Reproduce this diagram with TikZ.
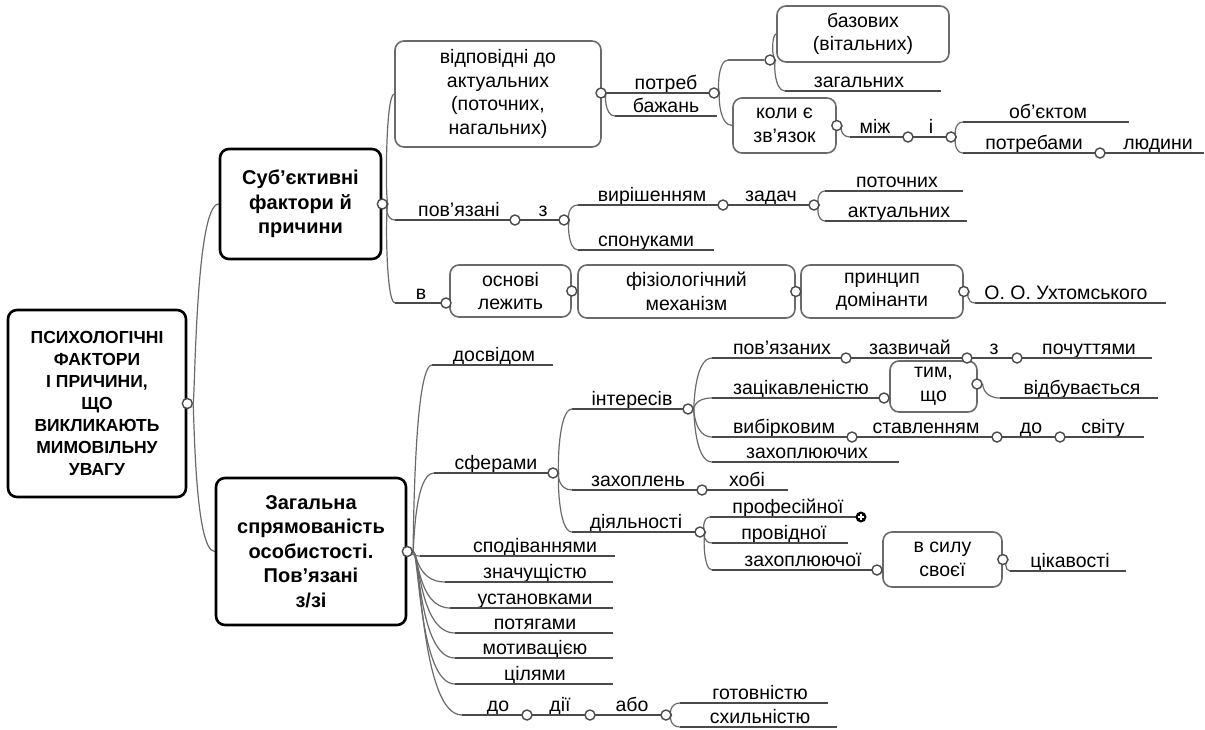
\documentclass[tikz,border=0pt]{standalone}
\usepackage{fontspec}
\setmainfont{Liberation Sans}
\usetikzlibrary{calc}
\pgfdeclarelayer{back}
\pgfdeclarelayer{bg}
\pgfsetlayers{back,bg,main}
\definecolor{ulc}{HTML}{4A4A4A}
\definecolor{cnc}{HTML}{6A6A6A}
\definecolor{bxc}{HTML}{6A6A6A}
\tikzset{
  mm/.style={to path={let \p1=(\tikztostart), \p2=(\tikztotarget), \n1={0.25*(\x2-\x1)} in .. controls (\x1+\n1,\y1) and (\x1+\n1,\y2) .. (\p2)}},
  conn/.style={draw=cnc, line width=1.2pt},
  uline/.style={draw=ulc, line width=1.8pt},
  lbl/.style={anchor=base, inner sep=0pt, font=\fontsize{19.5}{23}\selectfont},
  dot/.style={circle, draw=ulc, fill=white, line width=1.4pt, inner sep=0pt, minimum size=10pt},
  bigbox/.style={draw=black, line width=2.6pt, rounded corners=9pt, fill=white, align=center, inner sep=0pt, font=\fontsize{20}{24.5}\selectfont\bfseries},
  subbox/.style={draw=bxc, line width=1.6pt, rounded corners=9pt, fill=white, align=center, inner sep=0pt, font=\fontsize{19.5}{23.5}\selectfont},
}
\newcommand\mmul[6]{%
  \node[lbl] (#1) at (#2,#3-3.5) {#6};
  \coordinate (#1-s) at (#4,#3);
  \coordinate (#1-e) at (#5,#3);
  \draw[uline] (#1-s) -- (#1-e);
}
\begin{document}
\begin{tikzpicture}[x=1pt,y=-1pt]
\begin{pgfonlayer}{back}
\fill[white] (0,0) rectangle (1205,729);
\end{pgfonlayer}
\useasboundingbox (0,0) rectangle (1205,729);
% boxes
\node[bigbox, font=\fontsize{17.5}{22}\selectfont\bfseries, minimum width=178pt, minimum height=187pt] (root) at (97,403.5) {ПСИХОЛОГІЧНІ\\ФАКТОРИ\\І ПРИЧИНИ,\\ЩО\\ВИКЛИКАЮТЬ\\МИМОВІЛЬНУ\\УВАГУ};
\node[bigbox, minimum width=161pt, minimum height=110pt] (subj) at (300.5,204) {Суб'єктивні\\фактори й\\причини};
\node[bigbox, minimum width=190pt, minimum height=147pt] (zag) at (311,551.5) {Загальна\\спрямованість\\особистості.\\Пов'язані\\з/зі};
\node[subbox, minimum width=206pt, minimum height=106pt] (vidpov) at (498,94) {відповідні до\\актуальних\\(поточних,\\нагальних)};
\node[subbox, minimum width=172pt, minimum height=56pt] (bazov) at (863,34) {базових\\(вітальних)};
\node[subbox, minimum width=103pt, minimum height=55pt] (koly) at (784.5,125.5) {коли є\\зв'язок};
\node[subbox, minimum width=121pt, minimum height=52pt] (osnovi) at (510.5,291) {основі\\лежить};
\node[subbox, minimum width=217pt, minimum height=53pt] (fiziol) at (686.5,291.5) {фізіологічний\\механізм};
\node[subbox, minimum width=162pt, minimum height=53pt] (prynts) at (882,291.5) {принцип\\домінанти};
\node[subbox, minimum width=87pt, minimum height=51pt] (tym) at (933.5,386.5) {тим,\\що};
\node[subbox, minimum width=119pt, minimum height=55pt] (vsylu) at (942.5,559.5) {в силу\\своєї};
% underline topics: name, cx, line y, x start, x end, text
\mmul{povyaz}{459}{220}{395}{515}{пов'язані}
\mmul{z1}{543}{220}{515}{564}{з}
\mmul{v1}{421}{303}{395}{446}{в}
\mmul{potreb}{666}{93}{601}{714}{потреб}
\mmul{bazhan}{666}{116}{615}{717}{бажань}
\mmul{zagal}{859}{91}{785}{941}{загальних}
\mmul{mizh}{875}{137}{850}{908}{між}
\mmul{i1}{931}{137}{908}{951}{і}
\mmul{obyekt}{1048}{122}{963}{1129}{об'єктом}
\mmul{potrebamy}{1034}{153}{963}{1100}{потребами}
\mmul{lyudyny}{1158}{153}{1100}{1204}{людини}
\mmul{vyrish}{652}{205}{578}{723}{вирішенням}
\mmul{sponuk}{646}{250}{578}{714}{спонуками}
\mmul{zadach}{771}{205}{723}{814}{задач}
\mmul{potoch}{897}{191}{825}{963}{поточних}
\mmul{aktual}{899}{221}{825}{967}{актуальних}
\mmul{ukht}{1066}{303}{975}{1166}{О. О. Ухтомського}
\mmul{dosvid}{494}{365}{432}{553}{досвідом}
\mmul{sfer}{496}{473}{434}{553}{сферами}
\mmul{spod}{535}{556}{420}{615}{сподіваннями}
\mmul{znach}{535}{582}{445}{613}{значущістю}
\mmul{ustan}{535}{608}{450}{613}{установками}
\mmul{potyag}{535}{633}{455}{613}{потягами}
\mmul{motyv}{535}{658}{455}{613}{мотивацією}
\mmul{tsil}{535}{684}{455}{613}{цілями}
\mmul{do1}{498}{715}{462}{527}{до}
\mmul{dii}{560}{715}{527}{590}{дії}
\mmul{abo}{632}{715}{590}{666}{або}
\mmul{gotov}{760}{703}{680}{828}{готовністю}
\mmul{skhyl}{760}{727}{680}{837}{схильністю}
\mmul{inter}{632}{409}{572}{688}{інтересів}
\mmul{zakhopl}{638}{490}{572}{702}{захоплень}
\mmul{khobi}{747}{490}{702}{788}{хобі}
\mmul{diyal}{636}{532}{572}{700}{діяльності}
\mmul{povyaz2}{782}{358}{712}{846}{пов'язаних}
\mmul{zazvych}{910}{358}{846}{967}{зазвичай}
\mmul{z2}{994}{358}{967}{1017}{з}
\mmul{pochutt}{1089}{358}{1017}{1152}{почуттями}
\mmul{zatsik}{801}{398}{712}{884}{зацікавленістю}
\mmul{vidbuv}{1082}{398}{1000}{1158}{відбувається}
\mmul{vybirk}{784}{437}{712}{852}{вибірковим}
\mmul{stavl}{926}{437}{852}{997}{ставленням}
\mmul{do2}{1031}{437}{997}{1060}{до}
\mmul{svitu}{1103}{437}{1060}{1144}{світу}
\mmul{zakhopl2}{807}{462}{712}{899}{захоплюючих}
\mmul{prof}{788}{517}{710}{861}{професійної}
\mmul{provid}{784}{543}{712}{848}{провідної}
\mmul{zakhopl3}{803}{570}{712}{877}{захоплюючої}
\mmul{tsikav}{1070}{571}{1010}{1126}{цікавості}
% extra plain segment to the unnamed junction
\coordinate (mid-s) at (728,60);
% dots
\node[dot] (r-d) at (root.east) {};
\node[dot] (s-d) at (subj.east) {};
\node[dot] (zg-d) at (zag.east) {};
\node[dot] (vp-d) at (601,93) {};
\node[dot] (pt-d) at (potreb-e) {};
\node[dot] (md-d) at (770,60) {};
\node[dot] (kl-d) at (koly.east) {};
\node[dot] (mz-d) at (mizh-e) {};
\node[dot] (i-d) at (i1-e) {};
\node[dot] (pb-d) at (potrebamy-e) {};
\node[dot] (pv-d) at (povyaz-e) {};
\node[dot] (z-d) at (z1-e) {};
\node[dot] (vr-d) at (vyrish-e) {};
\node[dot] (zd-d) at (zadach-e) {};
\node[dot] (v-d) at (v1-e) {};
\node[dot] (os-d) at (osnovi.east) {};
\node[dot] (fz-d) at (fiziol.east) {};
\node[dot] (pr-d) at (prynts.east) {};
\node[dot] (sf-d) at (sfer-e) {};
\node[dot] (in-d) at (inter-e) {};
\node[dot] (p2-d) at (povyaz2-e) {};
\node[dot] (zv-d) at (zazvych-e) {};
\node[dot] (z2-d) at (z2-e) {};
\node[dot] (zc-d) at (zatsik-e) {};
\node[dot] (tm-d) at (977,384) {};
\node[dot] (vb-d) at (vybirk-e) {};
\node[dot] (sv-d) at (stavl-e) {};
\node[dot] (d2-d) at (do2-e) {};
\node[dot] (zh-d) at (zakhopl-e) {};
\node[dot] (dl-d) at (diyal-e) {};
\node[dot] (zh3-d) at (zakhopl3-e) {};
\node[dot] (vs-d) at (vsylu.east) {};
\node[dot] (do-d) at (do1-e) {};
\node[dot] (di-d) at (dii-e) {};
\node[dot] (ab-d) at (abo-e) {};
\node[circle, fill=black, inner sep=0pt, minimum size=11pt] (plus) at (prof-e) {};
\draw[white, line width=1.6pt] (plus.center) ++(-3.3,0) -- ++(6.6,0) (plus.center) ++(0,-3.3) -- ++(0,6.6);
% connectors
\begin{pgfonlayer}{bg}
\draw[conn] (r-d) to[mm] (subj.west);
\draw[conn] (r-d) to[mm] (zag.west);
\draw[conn] (s-d) to[mm] (vidpov.west);
\draw[conn] (s-d) to[mm] (povyaz-s);
\draw[conn] (s-d) to[mm] (v1-s);
\draw[conn] (vp-d) -- (vidpov.east);
\draw[conn] (vp-d) to[mm] (bazhan-s);
\draw[conn] (pt-d) to[mm] (mid-s);
\draw[conn] (mid-s) -- (md-d);
\draw[conn] (pt-d) to[mm] (koly.west);
\draw[conn] (md-d) to[mm] (bazov.west);
\draw[conn] (md-d) to[mm] (zagal-s);
\draw[conn] (kl-d) to[mm] (mizh-s);
\draw[conn] (i-d) to[mm] (obyekt-s);
\draw[conn] (i-d) to[mm] (potrebamy-s);
\draw[conn] (z-d) to[mm] (vyrish-s);
\draw[conn] (z-d) to[mm] (sponuk-s);
\draw[conn] (zd-d) to[mm] (potoch-s);
\draw[conn] (zd-d) to[mm] (aktual-s);
\draw[conn] (os-d) -- (fiziol.west);
\draw[conn] (fz-d) -- (prynts.west);
\draw[conn] (pr-d) to[mm] (ukht-s);
\draw[conn] (zg-d) to[mm] (dosvid-s);
\draw[conn] (zg-d) to[mm] (sfer-s);
\draw[conn] (zg-d) to[mm] (spod-s);
\draw[conn] (zg-d) to[mm] (znach-s);
\draw[conn] (zg-d) to[mm] (ustan-s);
\draw[conn] (zg-d) to[mm] (potyag-s);
\draw[conn] (zg-d) to[mm] (motyv-s);
\draw[conn] (zg-d) to[mm] (tsil-s);
\draw[conn] (zg-d) to[mm] (do1-s);
\draw[conn] (ab-d) to[mm] (gotov-s);
\draw[conn] (ab-d) to[mm] (skhyl-s);
\draw[conn] (sf-d) to[mm] (inter-s);
\draw[conn] (sf-d) to[mm] (zakhopl-s);
\draw[conn] (sf-d) to[mm] (diyal-s);
\draw[conn] (in-d) to[mm] (povyaz2-s);
\draw[conn] (in-d) to[mm] (zatsik-s);
\draw[conn] (in-d) to[mm] (vybirk-s);
\draw[conn] (in-d) to[mm] (zakhopl2-s);
\draw[conn] (tm-d) to[mm] (vidbuv-s);
\draw[conn] (dl-d) to[mm] (prof-s);
\draw[conn] (dl-d) to[mm] (provid-s);
\draw[conn] (dl-d) to[mm] (zakhopl3-s);
\draw[conn] (vs-d) to[mm] (tsikav-s);
\end{pgfonlayer}
\end{tikzpicture}
\end{document}
